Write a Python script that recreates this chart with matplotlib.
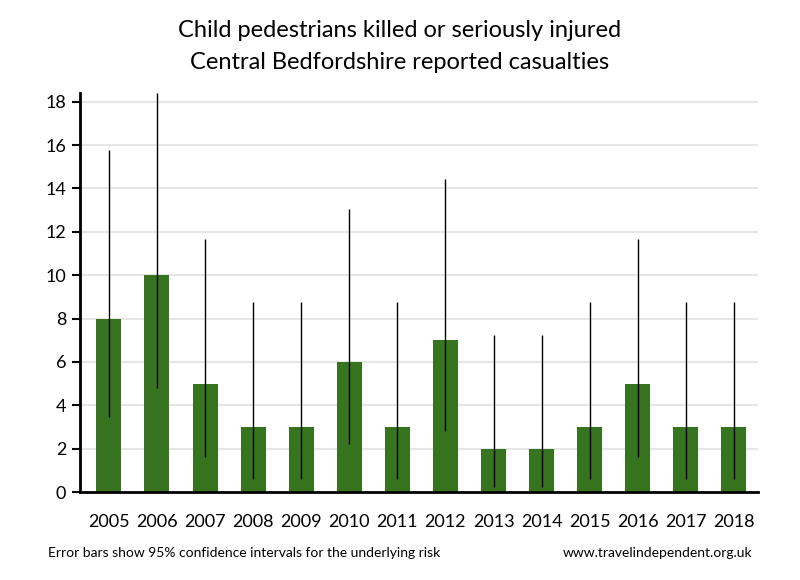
import matplotlib
matplotlib.use("Agg")
import matplotlib.pyplot as plt
import numpy as np

plt.rcParams['font.family'] = ['Lato', 'DejaVu Sans']

years = ["2005", "2006", "2007", "2008", "2009", "2010", "2011", "2012",
         "2013", "2014", "2015", "2016", "2017", "2018"]
values = [8, 10, 5, 3, 3, 6, 3, 7, 2, 2, 3, 5, 3, 3]
ci_low = [3.45, 4.80, 1.62, 0.62, 0.62, 2.20, 0.62, 2.81, 0.24, 0.24, 0.62, 1.62, 0.62, 0.62]
ci_high = [15.76, 18.39, 11.67, 8.77, 8.77, 13.06, 8.77, 14.42, 7.22, 7.22, 8.77, 11.67, 8.77, 8.77]
yticks = [0, 2, 4, 6, 8, 10, 12, 14, 16, 18]

fig = plt.figure(figsize=(8, 5.8), dpi=100)
ax = fig.add_axes([0.1, 0.1517, 0.8475, 0.688])

x = np.arange(len(years))
ax.bar(x, values, width=0.52, color='#36741F', zorder=2)
ax.vlines(x, ci_low, ci_high, color='black', linewidth=1, zorder=3)

ax.set_xlim(-0.6, 13.5)
ax.set_ylim(0, 18.4)
ax.set_yticks(yticks)
ax.set_xticks(x)
ax.set_xticklabels(years)
ax.yaxis.grid(True, color='#E6E6E6', linewidth=1.5, zorder=0)
ax.set_axisbelow(True)
for s in ['top', 'right']:
    ax.spines[s].set_visible(False)
for s in ['left', 'bottom']:
    ax.spines[s].set_linewidth(2)
    ax.spines[s].set_color('black')
ax.tick_params(axis='x', length=0, pad=16, labelsize=13)
ax.tick_params(axis='y', length=6, width=1.5, labelsize=13, pad=4)

fig.text(0.5, 0.948, "Child pedestrians killed or seriously injured", ha='center', va='center', fontsize=17)
fig.text(0.5, 0.893, "Central Bedfordshire reported casualties", ha='center', va='center', fontsize=17)
fig.text(0.06, 0.046, "Error bars show 95% confidence intervals for the underlying risk", ha='left', va='center', fontsize=10)
fig.text(0.94, 0.046, "www.travelindependent.org.uk", ha='right', va='center', fontsize=10)

fig.savefig("out.png", dpi=100)
